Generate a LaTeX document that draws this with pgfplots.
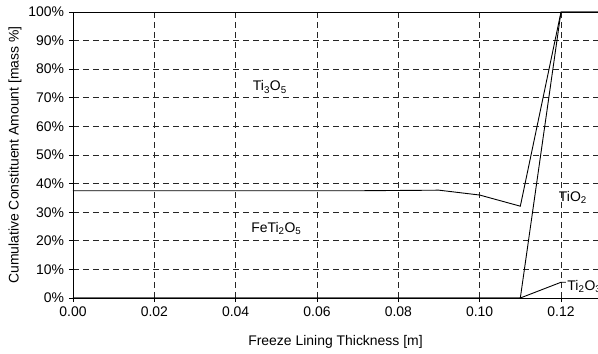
\documentclass[border=0pt]{standalone}
\usepackage{fontspec}
\setmainfont{Liberation Sans}
\usepackage{pgfplots}
\pgfplotsset{compat=1.18}
\begin{document}
\fontsize{14}{16}\selectfont
\begin{tikzpicture}
\begin{axis}[
  scale only axis, width=525bp, height=286bp,
  xmin=0, xmax=0.1291, ymin=0, ymax=100,
  axis x line*=bottom, axis y line*=left,
  axis line style={black, line width=0.9bp},
  xtick={0,0.02,0.04,0.06,0.08,0.10,0.12},
  ytick={0,10,20,30,40,50,60,70,80,90,100},
  grid=major,
  major grid style={black!85, line width=0.6bp, dash pattern=on 6bp off 4bp},
  tick align=outside, major tick length=4bp,
  tick style={black, line width=0.8bp},
  /pgf/number format/assume math mode=true,
  x tick label style={/pgf/number format/.cd, fixed, fixed zerofill, precision=2},
  yticklabel={\pgfmathprintnumber{\tick}\%},
  xlabel={Freeze Lining Thickness [m]},
  ylabel={Cumulative Constituent Amount [mass \%]},
  xlabel style={at={(rel axis cs:0.5,0)}, anchor=center, yshift=-44bp},
  ylabel style={at={(rel axis cs:0,0.5)}, anchor=center, yshift=58bp},
  clip=false,
]
% cumulative FeTi2O5 boundary
\addplot[black, line width=0.9bp, mark=none] coordinates {(0,37.5) (0.01,37.5) (0.02,37.5) (0.03,37.5) (0.04,37.5)
  (0.05,37.5) (0.06,37.5) (0.07,37.5) (0.08,37.6) (0.09,37.7) (0.10,36.0)
  (0.11,32.1) (0.12,100) (0.1291,100)};
% cumulative TiO2 boundary
\addplot[black, line width=0.9bp, mark=none] coordinates {(0,0) (0.11,0) (0.12,100) (0.1291,100)};
% Ti2O3 boundary
\addplot[black, line width=0.9bp, mark=none] coordinates {(0,0) (0.11,0) (0.12,5.5) (0.1291,5.5)};
\draw[black, line width=0.9bp] (rel axis cs:0,1) -- (rel axis cs:1,1);
\node at (axis cs:0.0484,73.8) {Ti\textsubscript{3}O\textsubscript{5}};
\node at (axis cs:0.0500,24.4) {FeTi\textsubscript{2}O\textsubscript{5}};
\node[anchor=west, inner sep=1bp] at (axis cs:0.1192,35.3) {TiO\textsubscript{2}};
\node[anchor=west, fill=white, inner sep=1bp] at (axis cs:0.1213,3.9) {Ti\textsubscript{2}O\textsubscript{3}};
\coordinate (bl) at (rel axis cs:0,0);
\coordinate (tr) at (rel axis cs:1,1);
\end{axis}
\pgfresetboundingbox
\path[use as bounding box] ([shift={(-73bp,-56bp)}]bl) rectangle ([shift={(0bp,12bp)}]tr);
\end{tikzpicture}
\end{document}
